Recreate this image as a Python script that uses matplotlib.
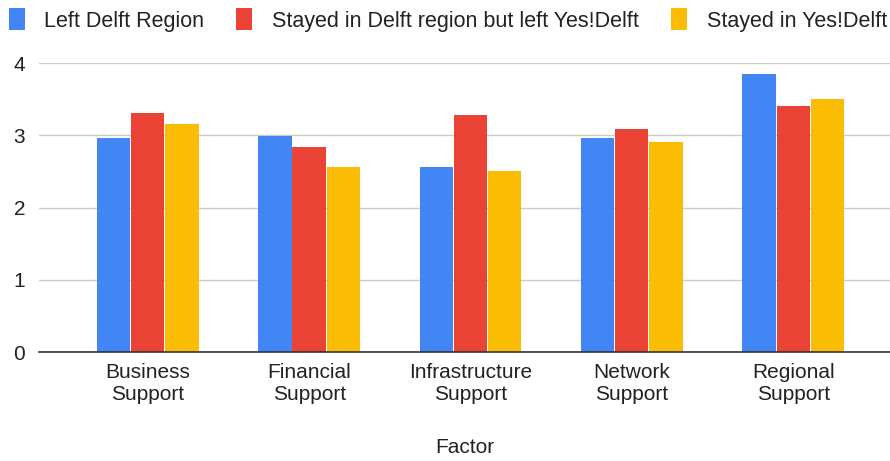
import numpy as np
import matplotlib.pyplot as plt

plt.rcParams['font.family'] = ['Liberation Sans', 'DejaVu Sans']

factors = ['Business\nSupport', 'Financial\nSupport', 'Infrastructure\nSupport',
           'Network\nSupport', 'Regional\nSupport']
left_region = [2.96, 2.99, 2.56, 2.96, 3.85]
left_yesdelft = [3.31, 2.84, 3.28, 3.09, 3.41]
stayed = [3.16, 2.56, 2.51, 2.91, 3.51]

series = [
    ('Left Delft Region', left_region, '#4285F4'),
    ('Stayed in Delft region but left Yes!Delft', left_yesdelft, '#EA4335'),
    ('Stayed in Yes!Delft', stayed, '#FBBC04'),
]

fig = plt.figure(figsize=(8.9, 4.61), dpi=100)
ax = fig.add_axes([0.044, 0.236, 0.956, 0.627])

x = np.arange(len(factors))
w = 0.206
step = 0.212
for i, (name, vals, color) in enumerate(series):
    ax.bar(x + (i - 1) * step, vals, width=w, color=color, label=name, zorder=3)

ax.set_ylim(0, 4)
ax.set_xlim(-0.673, 4.6)
ax.set_yticks([0, 1, 2, 3, 4])
ax.set_xticks(x)
ax.set_xticklabels(factors, fontsize=15, color='#222222', linespacing=1.2)
ax.tick_params(axis='y', labelsize=15, colors='#222222', length=0, pad=10)
ax.tick_params(axis='x', length=0, pad=8)
ax.grid(axis='y', color='#cccccc', linewidth=1, zorder=0)
for s in ['top', 'right', 'left']:
    ax.spines[s].set_visible(False)
ax.spines['bottom'].set_color('#333333')
ax.spines['bottom'].set_linewidth(1.2)
ax.spines['bottom'].set_zorder(4)

ax.set_xlabel('Factor', fontsize=15, color='#222222', labelpad=24)

fig.legend(loc='center', bbox_to_anchor=(0.503, 1 - 20 / 461), ncol=3,
           frameon=False, fontsize=15.5, handlelength=0.75, handleheight=1.2,
           handletextpad=0.9, columnspacing=1.5, labelcolor='#222222')

fig.savefig('out.png', dpi=100)
